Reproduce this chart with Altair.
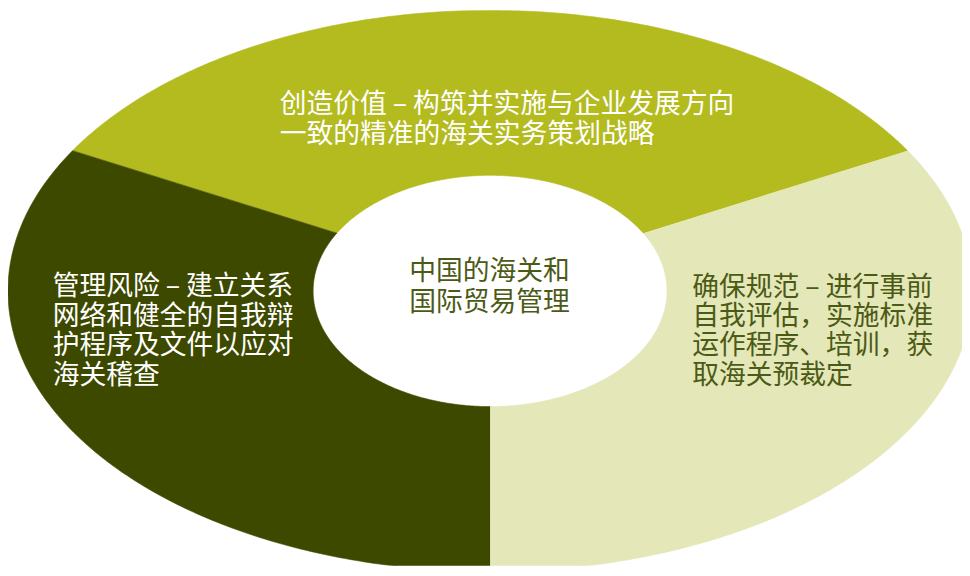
import altair as alt
import numpy as np
import pandas as pd

# ---- data ----
segments = ["创造价值", "确保规范", "管理风险"]
shares = [1, 1, 1]
colors = ["#B3BB1F", "#E4E7B8", "#3E4900"]
start_angle_deg = 150          # first segment starts upper-left, runs clockwise
inner_ratio_x = 0.367          # hole size relative to outer ellipse
inner_ratio_y = 0.412

top_lines = ["创造价值 – 构筑并实施与企业发展方向", "一致的精准的海关实务策划战略"]
left_lines = ["管理风险 – 建立关系", "网络和健全的自我辩", "护程序及文件以应对", "海关稽查"]
right_lines = ["确保规范 – 进行事前", "自我评估，实施标准", "运作程序、培训，获", "取海关预裁定"]
center_lines = ["中国的海关和", "国际贸易管理"]

# ---- build donut polygons in unit (ellipse) space ----
total = sum(shares)
rows = []
a0 = np.deg2rad(start_angle_deg)
for seg, sh in zip(segments, shares):
    span = 2 * np.pi * sh / total
    a1 = a0 - span
    t = np.linspace(a0, a1, 200)
    k = 0
    for ti in t:
        rows.append({"segment": seg, "x": np.cos(ti), "y": np.sin(ti), "o": k}); k += 1
    for ti in t[::-1]:
        rows.append({"segment": seg, "x": inner_ratio_x * np.cos(ti),
                     "y": inner_ratio_y * np.sin(ti), "o": k}); k += 1
    a0 = a1
df = pd.DataFrame(rows)

xs = alt.Scale(domain=[-1, 0.979], nice=False, zero=False)
ys = alt.Scale(domain=[-0.979, 1], nice=False, zero=False)
cs = alt.Scale(domain=segments, range=colors)

donut = alt.Chart(df).mark_line(clip=True, strokeWidth=0.6, interpolate="linear").encode(
    x=alt.X("x:Q", scale=xs, axis=None),
    y=alt.Y("y:Q", scale=ys, axis=None),
    fill=alt.Fill("segment:N", scale=cs, legend=None),
    stroke=alt.Stroke("segment:N", scale=cs, legend=None),
    detail="segment:N",
    order="o:Q",
)

FONT = "Noto Sans CJK SC"

def label(lines, px, py, color, align="left", lh=30):
    return alt.Chart(alt.Data(values=[{"t": "\n".join(lines)}])).mark_text(
        font=FONT, fontSize=27, lineHeight=lh, align=align, baseline="middle",
        color=color, lineBreak="\n",
    ).encode(x=alt.value(px), y=alt.value(py), text="t:N")

chart = alt.layer(
    donut,
    label(top_lines, 274, 96, "white"),
    label(left_lines, 45, 279, "white"),
    label(right_lines, 690, 280, "#4B5A14", lh=29.5),
    label(center_lines, 485.5, 264, "#4B5A14", align="center", lh=31.5),
).properties(
    width=962, height=560, padding=0, autosize="none", background="white"
).configure_view(stroke=None)

chart.save("out.html", embed_options={"renderer": "svg", "actions": False})
